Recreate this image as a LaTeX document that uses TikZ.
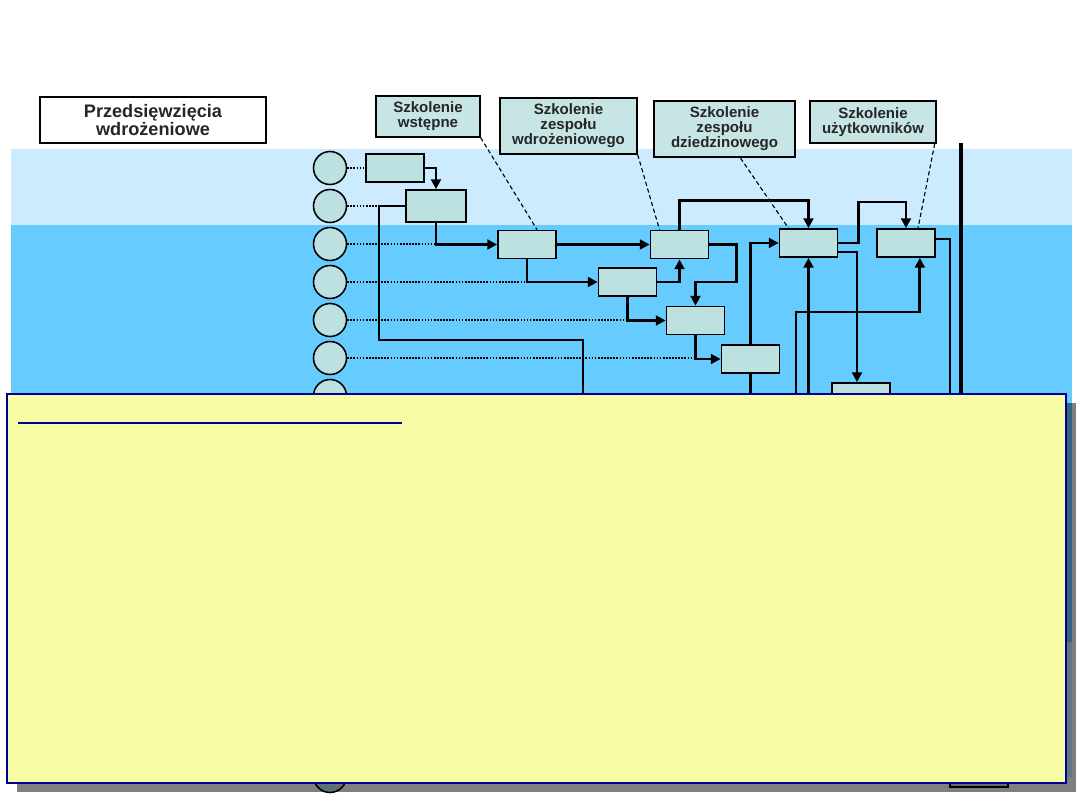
\documentclass[tikz,border=0pt]{standalone}
\usepackage{fontspec}
\setmainfont{Liberation Sans}
\usetikzlibrary{arrows.meta,positioning}
\definecolor{pasjasny}{RGB}{204,235,255}
\definecolor{pasniebieski}{RGB}{102,204,255}
\definecolor{morski}{RGB}{189,225,225}
\definecolor{morskijasny}{RGB}{200,229,229}
\definecolor{notatka}{RGB}{248,252,164}
\definecolor{granat}{RGB}{0,0,153}
\newcommand{\szk}{\fontsize{10.7}{10.7}\selectfont\bfseries}

\begin{document}
\begin{tikzpicture}[x=0.025cm, y=-0.025cm,
  zad/.style={draw, line width=1.2pt, fill=morski, minimum width=1.45cm, minimum height=0.7cm, inner sep=0pt},
  kolo/.style={circle, draw, line width=1.1pt, fill=morski, minimum size=0.825cm, inner sep=0pt},
  opis/.style={draw, line width=1pt, fill=morskijasny, align=center, inner sep=0pt, font=\szk, text=black!85},
  pol/.style={line width=2pt, -{Triangle[length=7pt,width=7pt]}},
  lin/.style={line width=2pt},
  kropki/.style={densely dotted, line width=1.2pt},
  kreski/.style={dash pattern=on 3pt off 2pt, line width=0.8pt}]
  \useasboundingbox (0,0) rectangle (1080,810);
  % Tlo (pasy)
  \fill[pasjasny] (11,149) rectangle (1072,225);
  \fill[pasniebieski] (11,225) rectangle (1072,642);
  \fill[pasjasny] (11,642) rectangle (1072,777);
  % Naglowek
  \node[draw, line width=1.3pt, fill=white, minimum width=5.65cm, minimum height=1.15cm, align=center, text=black!85,
        font=\fontsize{12.9}{12.6}\selectfont\bfseries] (tytul) at (153,120) {Przedsięwzięcia\\wdrożeniowe};
  % Kola (etapy)
  \foreach \i in {1,...,17}
    \node[kolo] (c\i) at (330,{168+38*(\i-1)}) {};
  % Zadania
  \node[zad] (z1) at (395,168) {};
  \node[zad, minimum width=1.5cm, minimum height=0.8cm] (z2) at (436,206) {};
  \node[zad] (z3) at (527,244.5) {};
  \node[zad] (z4) at (627.5,282) {};
  \node[zad] (z5) at (679.5,244.5) {};
  \node[zad] (z6) at (695.5,320.5) {};
  \node[zad] (z7) at (750.5,359) {};
  \node[zad] (z8) at (808.5,243) {};
  \node[zad] (z9) at (906,243) {};
  \node[zad] (z10) at (861,397) {};
  \node[zad] (z11) at (979,773) {};
  \coordinate (r3) at (379,340);
  \coordinate (d1) at (583,500);
  \coordinate (d2) at (796,500);
  \coordinate (d3) at (950,500);
  % Linie kropkowane od kol
  \draw[kropki] (c1.east) -- (z1.west);
  \draw[kropki] (c2.east) -- (r3 |- c2.east);
  \draw[kropki] (c3.east) -- (z2.south |- c3.east);
  \draw[kropki] (c4.east) -- (z3.south |- c4.east);
  \draw[kropki] (c5.east) -- (z4.south |- c5.east);
  \draw[kropki] (c6.east) -- (z6.south |- c6.east);
  % Powiazania
  \draw[pol] (z1.east) -| (z2.north);
  \draw[lin] (z2.west) -| (r3) -| (d1);
  \draw[pol] (z2.south) |- (z3.west);
  \draw[pol] (z3.east) -- (z5.west);
  \draw[pol] (z3.south) |- (z4.west);
  \draw[pol] (z4.east) -| (z5.south);
  \draw[pol] (z4.south) |- (z6.west);
  \draw[pol] (z5.east) -- ++(27,0) -- ++(0,37.5) -| (z6.north);
  \draw[pol] (z5.north) -- ++(0,-29) -| (z8.north);
  \draw[pol] (z6.south) |- (z7.west);
  \draw[pol] (z7.north) |- (z8.west);
  \draw[lin] (z7.south) -- ++(0,130);
  \draw[pol] (z8.south |- d1) -- (z8.south);
  \draw[pol] (d2) -- ++(0,-188) -| ([xshift=-0.4cm]z9.south east);
  \draw[pol] (z8.east) -- ++(20,0) -- ++(0,-41) -| (z9.north);
  \draw[pol] ([yshift=-0.225cm]z8.east) -| ([xshift=-0.1cm]z10.north);
  \draw[lin] ([yshift=0.1cm]z9.east) -| (d3);
  \draw[line width=3pt] (961,143) -- (961,500);
  % Szkolenia
  \node[opis, minimum width=2.6cm, minimum height=1.025cm] (k1) at (428,116.5) {Szkolenie\\wstępne};
  \node[opis, minimum width=3.425cm, minimum height=1.4cm] (k2) at (568.5,126) {Szkolenie\\zespołu\\wdrożeniowego};
  \node[opis, line width=1.6pt, minimum width=3.525cm, minimum height=1.4cm] (k3) at (724.5,129) {Szkolenie\\zespołu\\dziedzinowego};
  \node[opis, minimum width=3.15cm, minimum height=1.05cm] (k4) at (873,122) {Szkolenie\\użytkowników};
  \draw[kreski] (k1.south east) -- ([xshift=0.25cm]z3.north);
  \draw[kreski] (k2.south east) -- ([xshift=-0.5cm]z5.north);
  \draw[kreski] ([xshift=0.4cm]k3.south) -- ([xshift=-0.5cm]z8.north);
  \draw[kreski] ([xshift=-0.05cm]k4.south east) -- ([xshift=0.3cm]z9.north);
  % Notatka z cieniem
  \fill[black, opacity=0.5] (17,403) rectangle (1076,792);
  \draw[granat, line width=1.3pt, fill=notatka] (7,394) rectangle (1066,783);
  \draw[granat, line width=1.8pt] (18,423) -- (402,423);
\end{tikzpicture}
\end{document}
